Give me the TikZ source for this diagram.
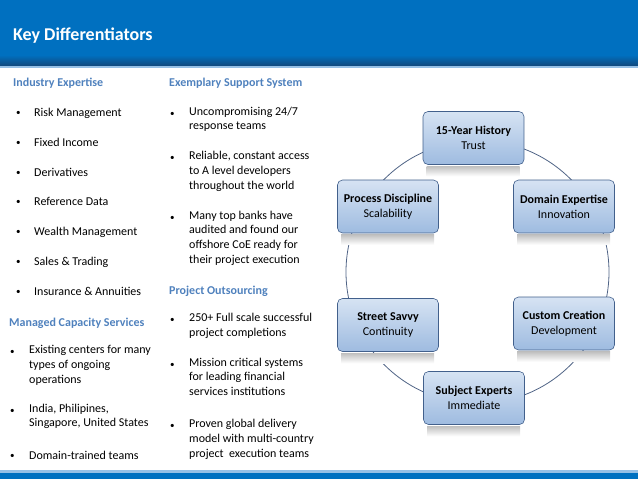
\documentclass[tikz,border=0pt]{standalone}
\usepackage{fontspec}
\setmainfont{Carlito}

\definecolor{barblue}{RGB}{0,112,192}
\definecolor{bardark}{RGB}{18,72,124}
\definecolor{barline}{RGB}{150,192,230}
\definecolor{headblue}{RGB}{79,129,189}
\definecolor{boxtop}{RGB}{214,227,243}
\definecolor{boxbot}{RGB}{158,187,224}
\definecolor{boxedge}{RGB}{66,96,140}
\definecolor{ringline}{RGB}{80,100,134}

\begin{document}
\begin{tikzpicture}[
  x=1pt, y=-1pt,
  every node/.style={font=\fontsize{12}{14.7}\selectfont, inner sep=0pt},
  title/.style={anchor=base west, text=white, font=\fontsize{18}{20}\selectfont\bfseries},
  head/.style={anchor=base west, text=headblue, font=\fontsize{12}{14.7}\selectfont\bfseries},
  bul/.style={anchor=base west, font=\fontsize{9}{10}\selectfont, yshift=1pt},
  item/.style={anchor=north west, align=left, yshift=10.29pt,
    execute at begin node=\strut},
  stage/.style={draw=boxedge, line width=0.6pt, rounded corners=5pt,
    top color=boxtop, bottom color=boxbot,
    minimum width=101pt, minimum height=53pt, align=center},
  ring/.style={ringline, line width=0.8pt},
  glow/.style={top color=black!28, bottom color=white}
]
\useasboundingbox (0,0) rectangle (638,479);

% ------------------------------------------------------------
% Header and footer bars
% ------------------------------------------------------------
\fill[barblue] (0,0) rectangle (638,55);
\shade[top color=barblue, bottom color=bardark] (0,55) rectangle (638,66);
\fill[barline] (0,66) rectangle (638,68);
\node[title] (ttl) at (13,40) {Key Differentiators};

\fill[barline] (0,470) rectangle (638,472.5);
\fill[barblue] (0,472.5) rectangle (638,479);

% ------------------------------------------------------------
% Left column
% ------------------------------------------------------------
\node[head] (ie) at (13,86.5) {Industry Expertise};
\node[bul] (ieb1) at (16,116) {•};
\node[item] (ie1) at (34,116) {Risk Management};
\node[bul] (ieb2) at (16,146) {•};
\node[item] (ie2) at (34,146) {Fixed Income};
\node[bul] (ieb3) at (16,176) {•};
\node[item] (ie3) at (34,176) {Derivatives};
\node[bul] (ieb4) at (16,205) {•};
\node[item] (ie4) at (34,205) {Reference Data};
\node[bul] (ieb5) at (16,235) {•};
\node[item] (ie5) at (34,235) {Wealth Management};
\node[bul] (ieb6) at (16,265) {•};
\node[item] (ie6) at (34,265) {Sales \& Trading};
\node[bul] (ieb7) at (16,295) {•};
\node[item] (ie7) at (34,295) {Insurance \& Annuities};

\node[head] (mc) at (9,326.5) {Managed Capacity Services};
\node[bul] (mcb1) at (10,355.7) {•};
\node[item] (mc1) at (29,355.7) {Existing centers for many\\types of ongoing\\operations};
\node[bul] (mcb2) at (10,414) {•};
\node[item] (mc2) at (29,414) {India, Philipines,\\Singapore, United States};
\node[bul] (mcb3) at (10,459.7) {•};
\node[item] (mc3) at (29,459.7) {Domain-trained teams};

% ------------------------------------------------------------
% Middle column
% ------------------------------------------------------------
\node[head] (es) at (169,86.5) {Exemplary Support System};
\node[bul] (esb1) at (170,117) {•};
\node[item] (es1) at (189,117) {Uncompromising 24/7\\response teams};
\node[bul] (esb2) at (170,161.5) {•};
\node[item] (es2) at (189,161.5) {Reliable, constant access\\to A level developers\\throughout the world};
\node[bul] (esb3) at (170,221) {•};
\node[item] (es3) at (189,221) {Many top banks have\\audited and found our\\offshore CoE ready for\\their project execution};

\node[head] (po) at (169,294) {Project Outsourcing};
\node[bul] (pob1) at (170,323.5) {•};
\node[item] (po1) at (189,323.5) {250+ Full scale successful\\project completions};
\node[bul] (pob2) at (170,368) {•};
\node[item] (po2) at (189,368) {Mission critical systems\\for leading financial\\services institutions};
\node[bul] (pob3) at (170,429.5) {•};
\node[item] (po3) at (189,429.5) {Proven global delivery\\model with multi-country\\project~ execution teams};

% ------------------------------------------------------------
% Ring of differentiators
% ------------------------------------------------------------
\coordinate (hub) at (477.5,272);
\draw[ring] (hub) circle[radius=131.5];

\node[stage] (hist)   at (473.5,138)   {\textbf{15-Year History}\\Trust};
\node[stage] (proc)   at (388,206.5)   {\textbf{Process Discipline}\\Scalability};
\node[stage] (dom)    at (564,206.5)   {\textbf{Domain Expertise}\\Innovation};
\node[stage] (street) at (388,325)     {\textbf{Street Savvy}\\Continuity};
\node[stage] (custom) at (564,323.5)   {\textbf{Custom Creation}\\Development};
\node[stage] (subj)   at (474,398)     {\textbf{Subject Experts}\\Immediate};

% reflections under the boxes
\foreach \n in {hist,proc,dom,street,custom,subj}
  \shade[glow] (\n.south west) ++(4,1.5) rectangle ++(93,10);

\end{tikzpicture}
\end{document}
